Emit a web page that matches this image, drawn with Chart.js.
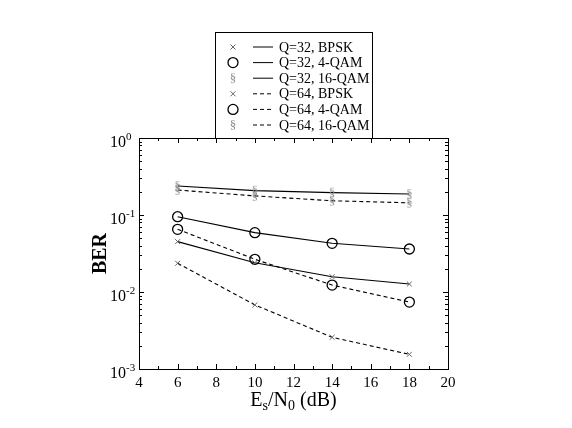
<!DOCTYPE html>
<html>
<head>
<meta charset="utf-8">
<script src="https://cdn.jsdelivr.net/npm/chart.js@4.4.1/dist/chart.umd.min.js"></script>
<style>
  html, body { margin: 0; background: #fff; }
</style>
</head>
<body>
<canvas id="myChart" width="572" height="428"></canvas>
<script>
// data
const snr = [6, 10, 14, 18];
const q32Bpsk = [0.0451, 0.0240, 0.0158, 0.0127];
const q32Qam4 = [0.095, 0.059, 0.0429, 0.0362];
const q32Qam16 = [0.238, 0.207, 0.195, 0.187];
const q64Bpsk = [0.0236, 0.0068, 0.00258, 0.00155];
const q64Qam4 = [0.0652, 0.0266, 0.0123, 0.0074];
const q64Qam16 = [0.211, 0.177, 0.153, 0.144];

const xTicks = [4, 6, 8, 10, 12, 14, 16, 18, 20];
const yTicks = [1e-3, 1e-2, 1e-1, 1];
const yTickExp = ['-3', '-2', '-1', '0'];

const serif = '"Liberation Serif", "DejaVu Serif", serif';

// little canvas for the § marker
function sectionMark() {
    const c = document.createElement('canvas');
    c.width = 10; c.height = 16;
    const g = c.getContext('2d');
    g.fillStyle = '#8a8a8a';
    g.font = '13px ' + serif;
    g.textAlign = 'center';
    g.textBaseline = 'middle';
    g.fillText('§', 5, 8.5);
    return c;
}
const secMark = sectionMark();

function pts(vals) {
    return snr.map((x, i) => ({ x: x, y: vals[i] }));
}

function series(label, vals, marker, dashed) {
    const ds = {
        label: label,
        data: pts(vals),
        borderColor: '#000',
        borderWidth: 1.1,
        borderDash: dashed ? [4, 3] : [],
        fill: false,
        tension: 0
    };
    if (marker === 'x') {
        ds.pointStyle = 'crossRot';
        ds.pointRadius = 3.5;
        ds.pointBorderColor = '#666';
        ds.pointBorderWidth = 1;
    } else if (marker === 'o') {
        ds.pointStyle = 'circle';
        ds.pointRadius = 5;
        ds.pointBorderColor = '#000';
        ds.pointBackgroundColor = 'rgba(0,0,0,0)';
        ds.pointBorderWidth = 1.3;
    } else {
        ds.pointStyle = secMark;
    }
    ds.marker = marker;
    return ds;
}

const datasets = [
    series('Q=32, BPSK', q32Bpsk, 'x', false),
    series('Q=32, 4-QAM', q32Qam4, 'o', false),
    series('Q=32, 16-QAM', q32Qam16, 's', false),
    series('Q=64, BPSK', q64Bpsk, 'x', true),
    series('Q=64, 4-QAM', q64Qam4, 'o', true),
    series('Q=64, 16-QAM', q64Qam16, 's', true)
];

// frame, inward ticks, labels, titles and the boxed legend
const decorations = {
    id: 'decorations',
    afterDraw(chart) {
        const ctx = chart.ctx;
        const a = chart.chartArea;
        const xs = chart.scales.x;
        const ys = chart.scales.y;
        ctx.save();
        ctx.strokeStyle = '#000';
        ctx.lineWidth = 1;
        ctx.setLineDash([]);
        ctx.strokeRect(a.left + 0.5, a.top + 0.5, a.right - a.left, a.bottom - a.top);

        // x ticks every unit
        ctx.beginPath();
        for (let v = xs.min; v <= xs.max; v++) {
            const px = Math.round(xs.getPixelForValue(v)) + 0.5;
            const len = v % 2 === 0 ? 5 : 3;
            ctx.moveTo(px, a.bottom); ctx.lineTo(px, a.bottom - len);
            ctx.moveTo(px, a.top); ctx.lineTo(px, a.top + len);
        }
        // y log ticks
        for (let e = -3; e < 0; e++) {
            for (let m = 1; m <= 9; m++) {
                const v = m * Math.pow(10, e);
                const py = Math.round(ys.getPixelForValue(v)) + 0.5;
                const len = m === 1 ? 5 : 3;
                ctx.moveTo(a.left, py); ctx.lineTo(a.left + len, py);
                ctx.moveTo(a.right, py); ctx.lineTo(a.right - len, py);
            }
        }
        ctx.stroke();

        ctx.fillStyle = '#000';
        ctx.font = '15px ' + serif;
        ctx.textAlign = 'center';
        ctx.textBaseline = 'middle';
        xTicks.forEach(v => {
            ctx.fillText(String(v), xs.getPixelForValue(v), a.bottom + 14);
        });

        yTicks.forEach((v, i) => {
            const py = ys.getPixelForValue(v);
            ctx.font = '11px ' + serif;
            ctx.textAlign = 'left';
            ctx.fillText(yTickExp[i], a.left - 13, py - 1);
            ctx.font = '16px ' + serif;
            ctx.textAlign = 'right';
            ctx.fillText('10', a.left - 13, py + 5);
        });

        // x title E_s/N_0 (dB)
        const parts = [['E', 20, 0], ['s', 14, 5], ['/N', 20, 0], ['0', 14, 5], [' (dB)', 20, 0]];
        let total = 0;
        parts.forEach(p => { ctx.font = p[1] + 'px ' + serif; total += ctx.measureText(p[0]).width; });
        let tx = (a.left + a.right) / 2 - total / 2;
        ctx.textAlign = 'left';
        parts.forEach(p => {
            ctx.font = p[1] + 'px ' + serif;
            ctx.fillText(p[0], tx, a.bottom + 32 + p[2]);
            tx += ctx.measureText(p[0]).width;
        });

        // y title
        ctx.save();
        ctx.translate(101, (a.top + a.bottom) / 2);
        ctx.rotate(-Math.PI / 2);
        ctx.font = 'bold 20px ' + serif;
        ctx.textAlign = 'center';
        ctx.fillText('BER', 0, 0);
        ctx.restore();

        // legend box
        const bx = 215, by = 32, bw = 157, bh = a.top - by;
        ctx.fillStyle = '#fff';
        ctx.fillRect(bx, by, bw, bh);
        ctx.strokeRect(bx + 0.5, by + 0.5, bw, bh);
        chart.data.datasets.forEach((ds, i) => {
            const ry = by + 15 + i * 15.6;
            ctx.beginPath();
            ctx.setLineDash(ds.borderDash);
            ctx.moveTo(253, ry); ctx.lineTo(273, ry);
            ctx.strokeStyle = '#000';
            ctx.stroke();
            ctx.setLineDash([]);
            if (ds.marker === 'x') {
                ctx.strokeStyle = '#666';
                ctx.beginPath();
                ctx.moveTo(230.5, ry - 2.5); ctx.lineTo(235.5, ry + 2.5);
                ctx.moveTo(235.5, ry - 2.5); ctx.lineTo(230.5, ry + 2.5);
                ctx.stroke();
            } else if (ds.marker === 'o') {
                ctx.strokeStyle = '#000';
                ctx.lineWidth = 1.3;
                ctx.beginPath();
                ctx.arc(233, ry, 5, 0, Math.PI * 2);
                ctx.stroke();
                ctx.lineWidth = 1;
            } else {
                ctx.drawImage(secMark, 228, ry - 8);
            }
            ctx.fillStyle = '#000';
            ctx.font = '14px ' + serif;
            ctx.textAlign = 'left';
            ctx.fillText(ds.label, 279, ry + 1);
        });
        ctx.restore();
    }
};

new Chart(document.getElementById('myChart'), {
    type: 'line',
    data: { datasets: datasets },
    options: {
        responsive: false,
        animation: false,
        layout: { padding: { left: 139, top: 138, right: 124, bottom: 59 } },
        plugins: { legend: { display: false }, tooltip: { enabled: false } },
        scales: {
            x: { type: 'linear', min: 4, max: 20, display: false },
            y: { type: 'logarithmic', min: 1e-3, max: 1, display: false }
        }
    },
    plugins: [decorations]
});
</script>
</body>
</html>
